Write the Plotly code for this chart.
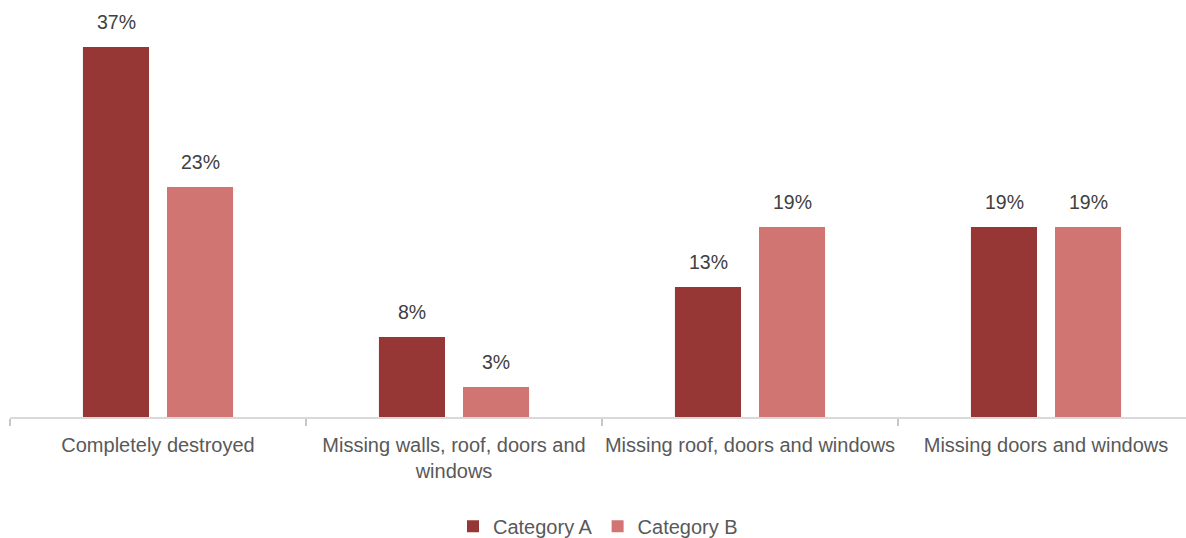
import plotly.graph_objects as go

categories = [
    "Completely destroyed",
    "Missing walls, roof, doors and<br>windows",
    "Missing roof, doors and windows",
    "Missing doors and windows",
]
category_a = [37, 8, 13, 19]
category_b = [23, 3, 19, 19]

series_names = ["Category A", "Category B"]
colors = ["#963735", "#D07572"]

FONT = "Liberation Sans, Arial, sans-serif"

fig = go.Figure()
for name, vals, col in zip(series_names, [category_a, category_b], colors):
    fig.add_trace(go.Bar(
        x=categories, y=vals, name=name,
        marker=dict(color=col, line=dict(width=0)),
    ))

# value labels above each bar, centred on each bar's slot
offsets = [-42, 42]
annotations = []
for k, vals in enumerate([category_a, category_b]):
    for i, v in enumerate(vals):
        annotations.append(dict(
            x=i, y=v, xref="x", yref="y",
            text=f"{v}%", showarrow=False,
            xshift=offsets[k], yshift=25, yanchor="middle",
            font=dict(family=FONT, size=19.5, color="#404040"),
        ))

fig.update_layout(
    width=1186, height=538,
    margin=dict(l=10, r=0, t=0, b=121, autoexpand=False),
    paper_bgcolor="white", plot_bgcolor="white",
    barmode="group", bargap=0.432, bargroupgap=0.214,
    showlegend=True,
    legend=dict(
        orientation="h", x=0.5, xanchor="center", y=-0.262, yanchor="middle",
        font=dict(family=FONT, size=20, color="#595959"),
        itemwidth=30, traceorder="normal",
    ),
    annotations=annotations,
    font=dict(family=FONT),
)
fig.update_xaxes(
    type="category",
    range=[-0.5, -0.5 + 1176 / 296],
    automargin=False, tickangle=0,
    showline=True, linecolor="#D9D9D9", linewidth=1.5,
    ticks="outside", tickson="boundaries", ticklen=7,
    tickcolor="#C8C8C8", tickwidth=1.5,
    ticklabelstandoff=9,
    tickfont=dict(family=FONT, size=20, color="#595959"),
    showgrid=False, zeroline=False,
)
fig.update_yaxes(
    range=[0, 41.7], visible=False, showgrid=False, zeroline=False,
)

fig.write_html("out.html")
